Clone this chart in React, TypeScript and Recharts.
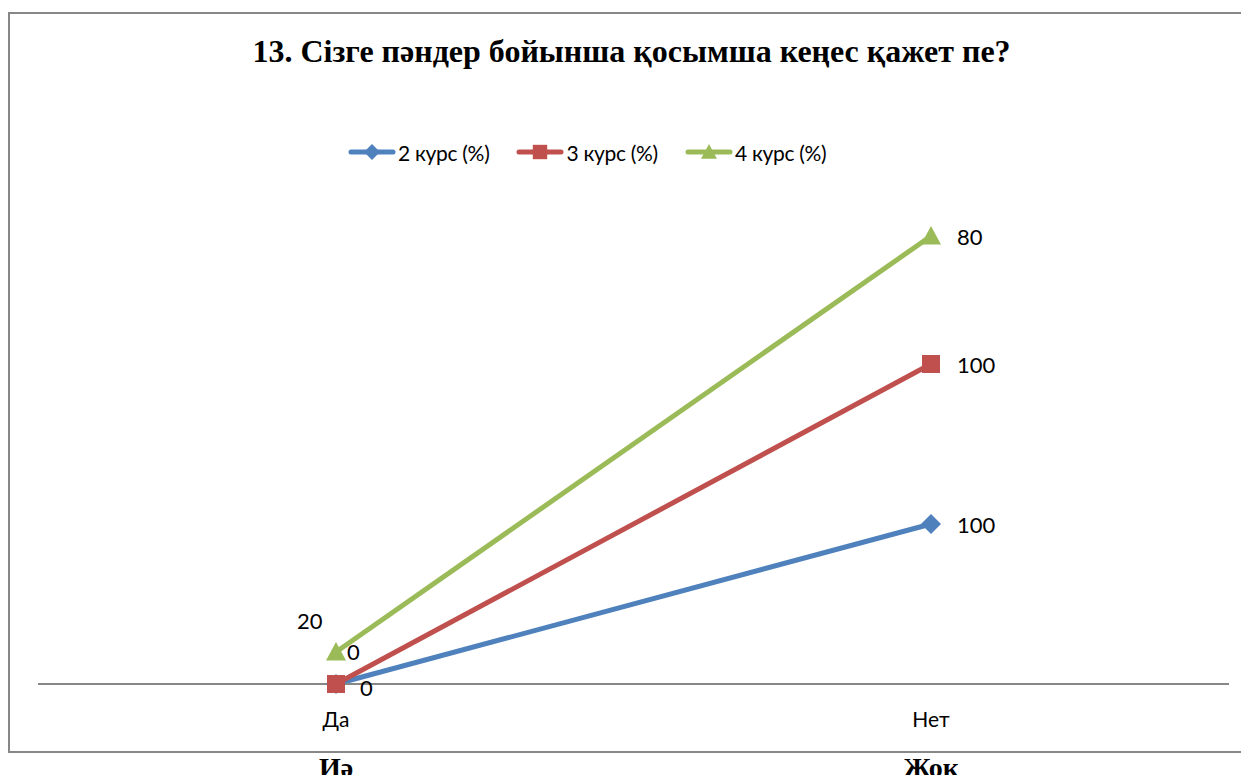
import React from 'react';
import { LineChart, Line, XAxis, YAxis, LabelList } from 'recharts';

// categories (Russian axis labels + Kazakh captions under the frame)
const CATEGORIES = ['Да', 'Нет'];
const CATEGORIES_KZ = ['Иә', 'Жоқ'];

// series values (%)
const KURS_2 = [0, 100];
const KURS_3 = [0, 100];
const KURS_4 = [20, 80];

const SERIES_NAMES = ['2 курс (%)', '3 курс (%)', '4 курс (%)'];
const TITLE = '13. Сізге пәндер бойынша қосымша кеңес қажет пе?';

// Excel-like palette
const COLORS = ['#4F81BD', '#C0504D', '#9BBB59'];
const SHAPES = ['diamond', 'square', 'triangle'];
const SANS = 'Lato, "Open Sans", sans-serif';
const SERIF = '"Liberation Serif", "DejaVu Serif", serif';

// stacked line chart: each series sits on top of the previous one
const chartData = CATEGORIES.map((cat, i) => ({
    cat,
    v2: KURS_2[i],
    v3: KURS_3[i],
    v4: KURS_4[i],
    s2: KURS_2[i],
    s3: KURS_2[i] + KURS_3[i],
    s4: KURS_2[i] + KURS_3[i] + KURS_4[i],
}));

// label offsets [dx, dy] per series per category (dragged labels in the original)
const LABEL_OFFSETS = [
    [[24, 3], [26, 0]],
    [[11, -33], [26, 0]],
    [[-39, -32], [26, 0]],
];

const Marker = ({ shape, cx, cy, color, size }: any) => {
    if (shape === 'diamond') {
        return <polygon points={`${cx},${cy - size} ${cx + size},${cy} ${cx},${cy + size} ${cx - size},${cy}`} fill={color} />;
    }
    if (shape === 'square') {
        const h = size * 0.9;
        return <rect x={cx - h} y={cy - h} width={h * 2} height={h * 2} fill={color} />;
    }
    return <polygon points={`${cx},${cy - size} ${cx + size},${cy + size * 0.85} ${cx - size},${cy + size * 0.85}`} fill={color} />;
};

const makeDot = (s: number) => (props: any) => {
    const { cx, cy, index } = props;
    if (cx == null || cy == null) return <g key={`d${s}-${index}`} />;
    return <Marker key={`d${s}-${index}`} shape={SHAPES[s]} cx={cx} cy={cy} color={COLORS[s]} size={10} />;
};

const makeLabel = (s: number) => (props: any) => {
    const { x, y, value, index } = props;
    const [dx, dy] = LABEL_OFFSETS[s][index] || [26, 0];
    return (
        <text
            x={x + dx}
            y={y + dy}
            dominantBaseline="central"
            textAnchor="start"
            fontSize={22}
            fontFamily={SANS}
            fill="#000"
        >
            {value}
        </text>
    );
};

const CategoryTick = ({ x, y, payload }: any) => (
    <g>
        <text x={x} y={y + 34} textAnchor="middle" dominantBaseline="central" fontSize={21} fontFamily={SANS} fill="#000">
            {payload.value}
        </text>
        <text x={x} y={y + 93} textAnchor="middle" fontSize={28} fontWeight="bold" fontFamily={SERIF} fill="#000">
            {CATEGORIES_KZ[payload.index]}
        </text>
    </g>
);

const LegendRow = () => (
    <div style={{ position: 'absolute', left: 348, top: 139, display: 'flex', alignItems: 'center', fontFamily: SANS, fontSize: 21, letterSpacing: -0.3 }}>
        {SERIES_NAMES.map((name, s) => (
            <div key={name} style={{ display: 'flex', alignItems: 'center', marginRight: 27 }}>
                <svg width={48} height={26}>
                    <line x1={3} y1={13} x2={45} y2={13} stroke={COLORS[s]} strokeWidth={5} strokeLinecap="round" />
                    <Marker shape={SHAPES[s]} cx={24} cy={13} color={COLORS[s]} size={8} />
                </svg>
                <span style={{ marginLeft: 2 }}>{name}</span>
            </div>
        ))}
    </div>
);

export default function App() {
    const keys = ['s2', 's3', 's4'];
    const rawKeys = ['v2', 'v3', 'v4'];
    return (
        <div style={{ position: 'relative', margin: -8, width: 1249, height: 783, background: '#fff', overflow: 'hidden' }}>
            <div
                style={{
                    position: 'absolute',
                    left: 8,
                    top: 12,
                    width: 1300,
                    height: 741,
                    border: '2px solid #878787',
                    boxSizing: 'border-box',
                }}
            />
            <div
                style={{
                    position: 'absolute',
                    left: 0,
                    width: 1263,
                    top: 33,
                    textAlign: 'center',
                    fontFamily: SERIF,
                    fontWeight: 'bold',
                    fontSize: 32,
                    lineHeight: '36px',
                }}
            >
                {TITLE}
            </div>
            <LegendRow />
            <div style={{ position: 'absolute', left: 0, top: 0 }}>
                <LineChart width={1249} height={783} data={chartData} margin={{ top: 204, right: 20, left: 38, bottom: 69 }}>
                    <XAxis
                        dataKey="cat"
                        height={30}
                        padding={{ left: 298, right: 298 }}
                        axisLine={{ stroke: '#878787', strokeWidth: 2 }}
                        tickLine={false}
                        tickSize={0}
                        tickMargin={0}
                        tick={<CategoryTick />}
                        interval={0}
                    />
                    <YAxis hide domain={[0, 300]} />
                    {keys.map((k, s) => (
                        <Line
                            key={k}
                            dataKey={k}
                            name={SERIES_NAMES[s]}
                            type="linear"
                            stroke={COLORS[s]}
                            strokeWidth={5}
                            dot={makeDot(s)}
                            activeDot={false}
                            isAnimationActive={false}
                        >
                            <LabelList dataKey={rawKeys[s]} content={makeLabel(s)} />
                        </Line>
                    ))}
                </LineChart>
            </div>
        </div>
    );
}
